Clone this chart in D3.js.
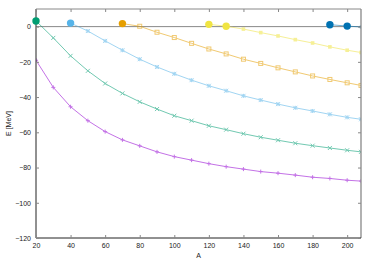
<!DOCTYPE html>
<html><head><meta charset="utf-8">
<script src="https://cdn.jsdelivr.net/npm/d3@7"></script>
<style>body{margin:0;background:#fff}svg{display:block}text{font-family:"Liberation Sans",Arial,sans-serif;fill:#222}</style>
</head><body><svg id="c" width="374" height="262"></svg>
<script>
const A = [20,30,40,50,60,70,80,90,100,110,120,130,140,150,160,170,180,190,200,208];
const purpleE = [-19.1,-34.5,-45.5,-53.4,-59.6,-64.3,-67.7,-71.1,-73.8,-75.8,-77.8,-79.5,-80.9,-82.3,-83.2,-84.3,-85.5,-86.2,-87.2,-87.7];
const greenE  = [3.2,-6.4,-16.6,-25.1,-32.3,-37.9,-42.7,-46.8,-50.6,-53.4,-56.3,-58.5,-60.8,-62.8,-64.5,-66.2,-67.6,-68.9,-70.2,-71.1];
const blueA = [40,50,60,70,80,90,100,110,120,130,140,150,160,170,180,190,200,208];
const blueE = [2.0,-2.5,-8.1,-13.4,-18.5,-22.9,-26.8,-30.4,-33.6,-36.4,-39.3,-41.7,-44.0,-46.1,-47.9,-49.8,-51.5,-52.6];
const orangeA = [70,80,90,100,110,120,130,140,150,160,170,180,190,200,208];
const orangeE = [1.7,0.2,-3.2,-6.2,-9.5,-12.7,-15.5,-18.5,-20.9,-23.4,-25.7,-28.0,-30.0,-31.9,-33.4];
const yellowA = [120,130,140,150,160,170,180,190,200,208];
const yellowE = [1.3,0.2,-1.4,-3.4,-5.3,-7.4,-9.3,-11.5,-13.4,-14.7];
const dblueA = [190,200,208];
const dblueE = [1.1,0.3,-0.2];
const dripA = [20,40,70,120,130,190,200];
const dripE = [3.2,2.0,1.7,1.3,0.2,1.1,0.3];
const dripC = ["green","lblue","orange","yellow","yellow","dblue","dblue"];
const xTicks = [20,40,60,80,100,120,140,160,180,200];
const yTicks = [0,-20,-40,-60,-80,-100,-120];

const col = {purple:"#9400d3", green:"#009e73", lblue:"#56b4e9", orange:"#e69f00", yellow:"#f0e442", dblue:"#0072b2"};
const svg = d3.select("#c");
const L=36,R=361,T=9,B=238;
const x = d3.scaleLinear().domain([20,208]).range([L,R]);
const y = d3.scaleLinear().domain([-120,10]).range([B,T]);

svg.append("defs").append("clipPath").attr("id","cp").append("rect").attr("x",L).attr("y",T).attr("width",R-L).attr("height",B-T);
const g = svg.append("g").attr("clip-path","url(#cp)");

// zero line
g.append("line").attr("x1",L).attr("x2",R).attr("y1",y(0)).attr("y2",y(0)).attr("stroke","#888").attr("stroke-width",1);

const series = [
  {xs:A, ys:purpleE, c:"purple", m:"plus"},
  {xs:A, ys:greenE, c:"green", m:"cross"},
  {xs:blueA, ys:blueE, c:"lblue", m:"star"},
  {xs:orangeA, ys:orangeE, c:"orange", m:"osq"},
  {xs:yellowA, ys:yellowE, c:"yellow", m:"fsq"},
  {xs:dblueA, ys:dblueE, c:"dblue", m:"dot"}
];
const line = d3.line().x(d=>x(d[0])).y(d=>y(d[1]));
series.forEach(s=>{
  const pts = s.xs.map((a,i)=>[a,s.ys[i]]);
  const cc = col[s.c];
  const sg = g.append("g").attr("opacity",0.55);
  sg.append("path").datum(pts).attr("d",line).attr("fill","none").attr("stroke",cc).attr("stroke-width",1);
  pts.forEach(p=>{
    const px=x(p[0]), py=y(p[1]), r=2;
    if(s.m==="plus"||s.m==="star"){
      sg.append("path").attr("d",`M${px-r},${py}H${px+r}M${px},${py-r}V${py+r}`).attr("stroke",cc).attr("stroke-width",1);
    }
    if(s.m==="cross"||s.m==="star"){
      sg.append("path").attr("d",`M${px-r},${py-r}L${px+r},${py+r}M${px-r},${py+r}L${px+r},${py-r}`).attr("stroke",cc).attr("stroke-width",1);
    }
    if(s.m==="osq"){
      sg.append("rect").attr("x",px-2).attr("y",py-2).attr("width",4).attr("height",4).attr("fill","none").attr("stroke",cc).attr("stroke-width",1);
    }
    if(s.m==="fsq"){
      sg.append("rect").attr("x",px-1.8).attr("y",py-1.8).attr("width",3.6).attr("height",3.6).attr("fill",cc);
    }
    if(s.m==="dot"){
      sg.append("circle").attr("cx",px).attr("cy",py).attr("r",1.8).attr("fill",cc);
    }
  });
});

// border
svg.append("line").attr("x1",L).attr("x2",R).attr("y1",T).attr("y2",T).attr("stroke","#888").attr("stroke-width",1);
svg.append("line").attr("x1",R).attr("x2",R).attr("y1",T).attr("y2",B).attr("stroke","#888").attr("stroke-width",1.3);
svg.append("line").attr("x1",L).attr("x2",L).attr("y1",T).attr("y2",B).attr("stroke","#222").attr("stroke-width",1);
svg.append("line").attr("x1",L).attr("x2",R).attr("y1",B).attr("y2",B).attr("stroke","#222").attr("stroke-width",1);

// big dots (not clipped)
dripA.forEach((a,i)=>{
  svg.append("circle").attr("cx",x(a)).attr("cy",y(dripE[i])).attr("r",3.7).attr("fill",col[dripC[i]]);
});

// axes
const xa = svg.append("g").attr("transform",`translate(0,${B})`).call(d3.axisBottom(x).tickValues(xTicks).tickSize(-3).tickPadding(5));
const xt = svg.append("g").attr("transform",`translate(0,${T})`).call(d3.axisTop(x).tickValues(xTicks).tickSize(-3).tickFormat(""));
const ya = svg.append("g").attr("transform",`translate(${L},0)`).call(d3.axisLeft(y).tickValues(yTicks).tickSize(-3).tickPadding(5));
const yr = svg.append("g").attr("transform",`translate(${R},0)`).call(d3.axisRight(y).tickValues(yTicks).tickSize(-3).tickFormat(""));
[xa,xt,ya,yr].forEach(a=>{a.select(".domain").remove(); a.selectAll(".tick line").attr("stroke","#888");});
[xa,ya].forEach(a=>a.selectAll("text").attr("font-size",7).style("font-family","Liberation Sans, Arial, sans-serif").attr("fill","#222"));

svg.append("text").attr("x",(L+R)/2).attr("y",258).attr("text-anchor","middle").attr("font-size",7).text("A");
svg.append("text").attr("transform",`translate(11,${(T+B)/2}) rotate(-90)`).attr("text-anchor","middle").attr("font-size",7).text("E [MeV]");
</script></body></html>
